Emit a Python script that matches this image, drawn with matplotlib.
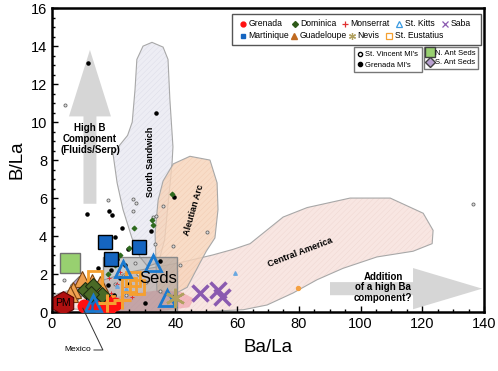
import matplotlib
matplotlib.use("Agg")
import matplotlib.pyplot as plt
from matplotlib.patches import Polygon, Rectangle
from matplotlib.lines import Line2D
from matplotlib.ticker import MultipleLocator

plt.rcParams['font.family'] = ['Liberation Sans', 'DejaVu Sans']
plt.rcParams['hatch.linewidth'] = 0.3

# ---- field outlines (Ba/La, B/La) ----
south_sandwich = [(19.8, 8.3), (22.0, 8.8), (24.5, 9.3), (26.0, 10.0), (26.9, 11.7), (27.5, 13.3),
                  (29.5, 14.0), (32.4, 14.2), (36.0, 13.95), (37.6, 13.3), (38.2, 11.2),
                  (39.2, 8.7), (38.9, 7.8), (37.5, 5.5), (36.5, 3.8), (34.5, 2.6), (31.0, 2.4),
                  (28.5, 2.9), (25.9, 3.9), (23.0, 5.4), (21.1, 6.8)]
aleutian = [(39.3, 7.8), (44.7, 8.2), (51.2, 8.0), (53.5, 6.8), (53.8, 5.4), (52.8, 3.9),
            (50.0, 3.2), (48.0, 2.6), (43.8, 1.3), (38.0, 0.8), (34.0, 1.1), (33.4, 4.15),
            (34.4, 5.9), (36.0, 6.9)]
central_america = [(0.5, 0.9), (10, 1.35), (25, 2.1), (41.5, 2.6), (52, 3.0), (58.7, 3.3),
                   (64.2, 3.6), (74.9, 5.0), (82.7, 5.5), (96.6, 6.0), (109.6, 6.0), (120.3, 5.2),
                   (123.5, 4.3), (123.2, 3.6), (117, 3.2), (105.3, 2.9), (94.3, 2.3), (85.9, 1.7),
                   (78.1, 1.0), (69.7, 0.37), (62, 0.12), (50, 0.03), (20, 0.03), (3, 0.2)]
mexico = [(8, 0.1), (15, 0.55), (25, 0.95), (35, 1.15), (42, 1.05), (46, 0.7), (44.5, 0.25),
          (35, 0.05), (20, 0.02)]
seds_x = (16.5, 40.5)
seds_y = (0.0, 2.9)

# ---- melt inclusions ----
stv_mi_x = [4.2, 18.2, 26.3, 27.3, 26.3, 32.8, 33.8, 36.0, 39.3, 50.2, 33.4, 26.9, 4.0, 41.5,
            136.5, 23.0, 28.0, 35.0, 20.5, 30.5, 24.0]
stv_mi_y = [10.9, 5.9, 5.95, 5.75, 5.3, 5.0, 5.05, 5.6, 3.5, 4.2, 3.6, 2.6, 1.7, 2.5,
            5.7, 1.9, 2.0, 1.1, 1.5, 1.6, 0.9]
gren_mi_x = [11.7, 33.7, 11.5, 18.6, 19.4, 22.7, 32.1, 39.5, 20.4, 24.6, 38.9, 35.0, 21.0, 19.0,
             22.0, 25.0, 16.0, 17.0, 30.0, 15.0, 20.0, 18.0, 23.5, 14.0]
gren_mi_y = [13.1, 10.5, 5.15, 5.3, 5.1, 4.45, 4.25, 6.05, 3.95, 3.3, 0.8, 2.7, 2.8, 2.2,
             1.8, 1.5, 1.6, 1.2, 0.5, 2.3, 0.9, 1.4, 2.5, 0.8]

# ---- whole rocks / small symbols ----
dom_small_x = [38.9, 26.6, 32.4, 32.7, 24.8, 22.0, 18.0, 20.5]
dom_small_y = [6.2, 4.4, 4.85, 4.6, 3.35, 3.0, 2.0, 2.5]
mon_small_x = [21.0, 24.0, 26.0, 19.0, 22.0, 27.5, 18.5]
mon_small_y = [1.5, 1.3, 0.8, 1.0, 2.1, 1.0, 1.8]
kit_small_x = [59.3, 24.0, 21.0]
kit_small_y = [2.05, 1.2, 1.35]
eus_small_x = [79.8]
eus_small_y = [1.25]

# ---- large symbols ----
grenada_x = [10.5, 15.5, 18.3, 20.5, 17.5]
grenada_y = [0.3, 0.25, 0.05, 0.4, 0.6]
martinique_x = [17.2, 28.2, 19.0, 13.3]
martinique_y = [3.7, 3.4, 2.8, 0.4]
dominica_x = [10.7, 13.3, 16.2, 12.5]
dominica_y = [1.15, 1.35, 0.9, 0.95]
guadeloupe_x = [9.6, 6.9, 12.9, 15.5, 5.8]
guadeloupe_y = [1.75, 1.15, 1.6, 1.5, 0.95]
s_ant_x = [8.8, 7.4]
s_ant_y = [1.4, 1.0]
eustatius_x = [13.8, 26.3, 25.0, 27.5, 17.8]
eustatius_y = [1.8, 1.75, 1.4, 1.3, 0.5]
kitts_x = [23.0, 32.7, 37.2, 13.2]
kitts_y = [2.25, 2.6, 0.75, 0.45]
monserrat_x = [22.7, 17.8]
monserrat_y = [0.63, 0.47]
nevis_x = [39.8]
nevis_y = [0.75]
saba_x = [48.0, 53.8, 55.0]
saba_y = [1.0, 1.15, 0.8]
n_ant_x = [5.8]
n_ant_y = [2.6]
pm_x = [3.6]
pm_y = [0.47]

legend_row1 = ['Grenada', 'Dominica', 'Monserrat', 'St. Kitts', 'Saba']
legend_row2 = ['Martinique', 'Guadeloupe', 'Nevis', 'St. Eustatius']

fig = plt.figure(figsize=(4.98, 3.71), dpi=100)
ax = fig.add_axes([0.1044, 0.159, 0.8675, 0.819])
ax.set_xlim(0, 140)
ax.set_ylim(0, 16)


def field(pts, face, hatchcol, z):
    ax.add_patch(Polygon(pts, closed=True, facecolor=face, edgecolor=hatchcol, hatch='//////',
                         linewidth=0, zorder=z))
    ax.add_patch(Polygon(pts, closed=True, fill=False, edgecolor='#a8a8a8', linewidth=0.8, zorder=z))


field(central_america, '#f8e6e2', '#eed6d0', 1)
field(south_sandwich, '#ededf4', '#dadae6', 1.1)
field(aleutian, (0.97, 0.83, 0.73, 0.8), (0.93, 0.74, 0.63, 0.6), 1.2)
ax.add_patch(Polygon(mexico, closed=True, facecolor=(0.93, 0.55, 0.6, 0.5), edgecolor='none', zorder=1.3))
ax.add_patch(Rectangle((seds_x[0], seds_y[0]), seds_x[1] - seds_x[0], seds_y[1] - seds_y[0],
                       facecolor=(0.55, 0.55, 0.55, 0.45), edgecolor='#8a8a8a', linewidth=1, zorder=1.5))
ax.text(34.5, 1.75, 'Seds', fontsize=12, ha='center', va='center', zorder=6)

# arrows
ax.arrow(12.3, 5.7, 0, 8.1, width=4.2, head_width=13.6, head_length=3.5,
         length_includes_head=True, color='#d6d6d6', lw=0, zorder=0.9)
ax.text(12.3, 9.1, 'High B\nComponent\n(Fluids/Serp)', fontsize=7, fontweight='bold',
        ha='center', va='center', linespacing=1.1, zorder=6)
ax.arrow(90.1, 1.23, 49.3, 0, width=0.69, head_width=2.17, head_length=22.4,
         length_includes_head=True, color='#d6d6d6', lw=0, zorder=0.9)
ax.text(107.3, 1.3, 'Addition\nof a high Ba\ncomponent?', fontsize=7, fontweight='bold',
        ha='center', va='center', linespacing=1.1, zorder=6)

ax.text(31.8, 7.9, 'South Sandwich', rotation=90, fontsize=6.5, fontweight='bold',
        ha='center', va='center', zorder=6)
ax.text(46, 5.4, 'Aleutian Arc', rotation=74, fontsize=6.5, fontweight='bold',
        ha='center', va='center', zorder=6)
ax.text(80.4, 3.15, 'Central America', rotation=21, fontsize=6.5, fontweight='bold',
        ha='center', va='center', zorder=6)
ax.text(8.5, -2.0, 'Mexico', fontsize=6, ha='center', va='center', clip_on=False)
ax.plot([13.6, 16.5, 10.0], [-2.0, -2.0, 0.2], color='#333333', lw=0.7, clip_on=False, zorder=6)

# small symbols
ax.scatter(stv_mi_x, stv_mi_y, s=5, facecolor='#dddddd', edgecolor='#666666', linewidth=0.6, zorder=3)
ax.scatter(gren_mi_x, gren_mi_y, s=5, color='black', zorder=3)
ax.scatter(dom_small_x, dom_small_y, s=5, marker='D', color='#2e6a1e', zorder=3)
ax.scatter(mon_small_x, mon_small_y, s=10, marker='+', color='#e03030', linewidth=0.7, zorder=3)
ax.scatter(kit_small_x, kit_small_y, s=6, marker='^', color='#6aa8e0', zorder=3)
ax.scatter(eus_small_x, eus_small_y, s=8, color='#f5a040', zorder=3)

# large symbols
ax.plot(n_ant_x, n_ant_y, 's', ms=15, mfc='#98d070', mec='#707070', mew=1, zorder=4)
ax.plot(pm_x, pm_y, 'h', ms=17, mfc='#b01010', mec='#5a0000', mew=0.8, zorder=4.5)
ax.text(pm_x[0], pm_y[0], 'PM', fontsize=7.5, ha='center', va='center', zorder=6)
ax.plot(s_ant_x, s_ant_y, 'D', ms=9, mfc='#b8a0d0', mec='#707070', mew=0.8, ls='none', zorder=4)
ax.plot(guadeloupe_x, guadeloupe_y, '^', ms=11, mfc='#f0a050', mec='#7a4210', mew=0.8, ls='none', zorder=4)
ax.plot(eustatius_x, eustatius_y, 's', ms=10, mfc='none', mec='#f5a030', mew=2, ls='none', zorder=4)
ax.plot(dominica_x, dominica_y, 'D', ms=8, mfc='#4a6a26', mec='#1e2e10', mew=0.8, ls='none', zorder=4.1)
ax.plot(martinique_x, martinique_y, 's', ms=10.5, mfc='#1565c0', mec='black', mew=1, ls='none', zorder=4)
ax.plot(grenada_x, grenada_y, 'o', ms=9, mfc='#ff1010', mec='#ff1010', ls='none', zorder=4)
ax.plot(kitts_x, kitts_y, '^', ms=12, mfc='none', mec='#1a7ad0', mew=2, ls='none', zorder=4.2)
ax.plot(monserrat_x, monserrat_y, '+', ms=13, mec='#f5a030', mew=2.2, ls='none', zorder=4.2)
ax.plot(nevis_x, nevis_y, marker=(6, 2, 0), ms=14, mec='#b0a060', mew=1.8, ls='none', zorder=4.2)
ax.plot(saba_x, saba_y, 'x', ms=11, mec='#8a5ab0', mew=2.5, ls='none', zorder=4.2)

# ---- main legend, laid out by hand (rows are not column-aligned in the original) ----
T = ax.transAxes


def px(x, y):
    return (x - 52) / 432, (312 - y) / 304


row1_keys = [dict(marker='o', ms=3.5, color='#ff1010'),
             dict(marker='D', ms=3, color='#2e5a1a'),
             dict(marker='+', ms=5, mec='#e03030', mew=0.9),
             dict(marker='^', ms=4, mfc='none', mec='#3a9ae0', mew=0.9),
             dict(marker='x', ms=4, mec='#8a5ab0', mew=0.9)]
row1_px = [243, 295, 345, 399, 445]
row2_keys = [dict(marker='s', ms=3.5, color='#1565c0'),
             dict(marker='^', ms=4, color='#c06a20'),
             dict(marker=(6, 2, 0), ms=5, mec='#b0a060', mew=0.9),
             dict(marker='s', ms=4, mfc='none', mec='#f5a030', mew=0.9)]
row2_px = [243, 294, 352, 389]

x0, y0 = px(232, 45)
x1, y1 = px(481, 14)
ax.add_patch(Rectangle((x0, y0), x1 - x0, y1 - y0, transform=T, facecolor='white',
                       edgecolor='#555555', linewidth=1, zorder=7))
for lab, key, xp in zip(legend_row1, row1_keys, row1_px):
    ax.plot(*px(xp, 23.5), transform=T, ls='none', zorder=8, **key)
    ax.text(*px(xp + 5.5, 23.5), lab, transform=T, fontsize=6.2, va='center', zorder=8)
for lab, key, xp in zip(legend_row2, row2_keys, row2_px):
    ax.plot(*px(xp, 35.5), transform=T, ls='none', zorder=8, **key)
    ax.text(*px(xp + 5.5, 35.5), lab, transform=T, fontsize=6.2, va='center', zorder=8)

h_mi = [
    Line2D([], [], ls='none', marker='o', ms=3, mfc='white', mec='black', label="St. Vincent MI's"),
    Line2D([], [], ls='none', marker='o', ms=3, color='black', label="Grenada MI's"),
]
leg2 = ax.legend(handles=h_mi, loc='upper right', bbox_to_anchor=(0.856, 0.872), borderaxespad=0,
                 fontsize=5.5, frameon=True, fancybox=False, edgecolor='#555555',
                 handlelength=0.6, handletextpad=0.4, labelspacing=0.4, borderpad=0.5)
leg2.get_frame().set_linewidth(1)
ax.add_artist(leg2)

h_sed = [
    Line2D([], [], ls='none', marker='s', ms=7, mfc='#98d070', mec='#404040', label='N. Ant Seds'),
    Line2D([], [], ls='none', marker='D', ms=5.5, mfc='#b8a0d0', mec='#404040', label='S. Ant Seds'),
]
leg3 = ax.legend(handles=h_sed, loc='upper right', bbox_to_anchor=(0.986, 0.872), borderaxespad=0,
                 fontsize=5.5, frameon=True, fancybox=False, edgecolor='#555555',
                 handlelength=0.8, handletextpad=0.3, labelspacing=0.3, borderpad=0.3)
leg3.get_frame().set_linewidth(1)

# axes styling
ax.set_xlabel('Ba/La', fontsize=13.5, labelpad=6)
ax.set_ylabel('B/La', fontsize=13.5, labelpad=4)
ax.xaxis.set_major_locator(MultipleLocator(20))
ax.xaxis.set_minor_locator(MultipleLocator(5))
ax.yaxis.set_major_locator(MultipleLocator(2))
ax.yaxis.set_minor_locator(MultipleLocator(0.5))
ax.tick_params(which='both', direction='in', top=False, right=False, labelsize=10.5, width=1)
ax.tick_params(which='major', length=4)
ax.tick_params(which='minor', length=2.5)
for s in ax.spines.values():
    s.set_linewidth(1.8)

fig.savefig('out.png', dpi=100)
